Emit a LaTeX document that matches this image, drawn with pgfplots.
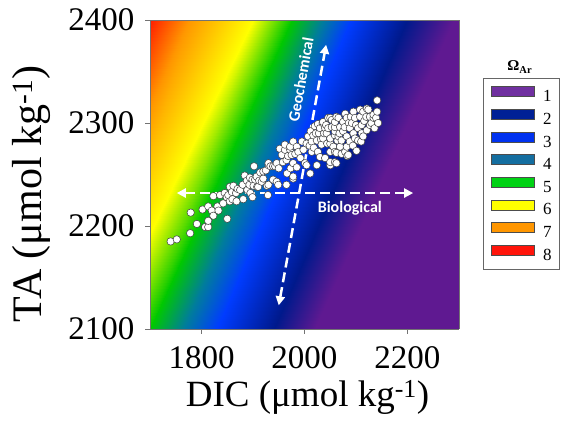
\documentclass[border=0pt]{standalone}
\usepackage{fontspec}
\setmainfont{Liberation Serif}
\newfontfamily\calibri{Carlito}
\usepackage{pgfplots}
\pgfplotsset{compat=1.18}
\usetikzlibrary{arrows.meta}
\definecolor{c1}{RGB}{112,48,160}
\definecolor{c2}{RGB}{0,32,150}
\definecolor{c3}{RGB}{0,50,240}
\definecolor{c4}{RGB}{20,110,160}
\definecolor{c5}{RGB}{0,210,20}
\definecolor{c6}{RGB}{255,255,0}
\definecolor{c7}{RGB}{255,150,0}
\definecolor{c8}{RGB}{255,20,10}
\pgfplotsset{sw/.style={legend image code/.code={\draw[draw=black!70,line width=0.5pt,fill=#1] (0pt,0.3pt) rectangle (43pt,10.3pt); \path (51pt,0pt);}}}
\begin{document}
\begin{tikzpicture}
\useasboundingbox (0,0) rectangle (563pt,422pt);
\begin{axis}[at={(150pt,93pt)}, anchor=south west,
  scale only axis, width=309pt, height=309pt,
  view={0}{90},
  clip mode=individual,
  xmin=1700, xmax=2300, ymin=2100, ymax=2400, zmin=-1, zmax=1,
  xtick={1800,2000,2200}, ytick={2100,2200,2300,2400}, ztick=\empty,
  scaled ticks=false,
  /pgf/number format/1000 sep={},
  /pgf/number format/assume math mode=true,
  ticklabel style={font=\fontsize{33}{33}\selectfont},
  xticklabel style={yshift=-9pt},
  yticklabel style={xshift=-7pt},
  tick align=outside, major tick length=5pt,
  xtick pos=left, ytick pos=left,
  tick style={draw=black!55, line width=0.8pt},
  axis line style={draw=black!55, line width=0.8pt},
  axis on top,
  colormap={omega}{rgb255=(95,25,145) rgb255=(0,25,140) rgb255=(0,60,255) rgb255=(0,125,155) rgb255=(0,200,0) rgb255=(255,255,0) rgb255=(255,150,0) rgb255=(255,30,0)},
  point meta min=1, point meta max=8,
  legend style={at={(1.078,0.812)}, anchor=north west, draw=black!60, line width=0.8pt,
    font=\fontsize{17}{17}\selectfont, inner xsep=8pt, inner ysep=8pt,
    row sep=5.7pt, nodes={inner sep=0pt}},
  legend cell align=left,
  legend entries={1,2,3,4,5,6,7,8},
]
\addlegendimage{sw=c1}
\addlegendimage{sw=c2}
\addlegendimage{sw=c3}
\addlegendimage{sw=c4}
\addlegendimage{sw=c5}
\addlegendimage{sw=c6}
\addlegendimage{sw=c7}
\addlegendimage{sw=c8}
% Omega_Ar background (values read along iso-lines)
\addplot3[surf, shader=interp, point meta=explicit, mesh/rows=2] table [x=DIC, y=TA, z=Z, meta=O] {
DIC TA Z O
1200 2100 0 8
1430 2100 0 8
1510 2100 0 7
1610 2100 0 6
1700 2100 0 5
1765 2100 0 4
1830 2100 0 3
1940 2100 0 2
2020 2100 0 1
2400 2100 0 1
1500 2400 0 8
1700 2400 0 8
1775 2400 0 7
1900 2400 0 6
1975 2400 0 5
2035 2400 0 4
2090 2400 0 3
2200 2400 0 2
2290 2400 0 1
2700 2400 0 1
};
% arrows
\addplot[white, line width=2.5pt, dash pattern=on 10pt off 5pt, {Triangle[length=9pt,width=9pt]}-{Triangle[length=9pt,width=9pt]}] coordinates {(1950,2123) (2042,2376)};
\addplot[white, line width=2.5pt, dash pattern=on 10pt off 5pt, {Triangle[length=9pt,width=9pt]}-{Triangle[length=9pt,width=9pt]}] coordinates {(1752,2232) (2211,2232)};
% observations
\addplot[only marks, mark=*, mark size=3.7pt, mark options={fill=white, draw=black!75, line width=0.5pt}] table [x=DIC, y=TA] {
DIC TA
1740 2185
1752 2187
1778 2193
1779 2213
1791 2202
1802 2216
1807 2199
1813 2199
1813 2205
1813 2219
1820 2215
1823 2210
1823 2229
1831 2219
1833 2215
1836 2230
1842 2222
1845 2232
1850 2207
1849 2228
1852 2230
1855 2224
1855 2238
1859 2233
1860 2226
1862 2239
1867 2232
1868 2224
1870 2236
1875 2235
1880 2240
1881 2226
1884 2249
1888 2244
1889 2235
1893 2240
1894 2247
1895 2232
1899 2228
1899 2245
1901 2239
1902 2258
1904 2245
1907 2248
1908 2238
1910 2238
1912 2244
1914 2252
1917 2243
1920 2246
1920 2253
1925 2254
1927 2239
1929 2230
1930 2240
1930 2259
1930 2261
1934 2258
1939 2245
1939 2258
1943 2258
1946 2243
1946 2261
1949 2240
1950 2256
1952 2275
1956 2269
1958 2262
1962 2274
1962 2279
1965 2240
1965 2264
1966 2251
1968 2268
1972 2274
1972 2277
1973 2256
1975 2269
1978 2246
1978 2248
1978 2261
1978 2282
1982 2270
1985 2257
1985 2277
1988 2272
1992 2266
1995 2282
1998 2274
2001 2261
2004 2259
2004 2280
2007 2287
2010 2278
2011 2251
2012 2292
2014 2272
2014 2282
2017 2288
2018 2276
2020 2297
2022 2290
2024 2259
2024 2283
2026 2272
2026 2299
2028 2290
2030 2267
2030 2295
2032 2284
2033 2279
2035 2300
2036 2285
2036 2301
2038 2290
2040 2266
2040 2295
2042 2298
2043 2290
2044 2280
2046 2295
2046 2305
2050 2259
2050 2262
2050 2272
2050 2280
2050 2285
2050 2305
2053 2296
2053 2303
2056 2277
2059 2262
2059 2272
2059 2288
2059 2292
2059 2296
2059 2301
2062 2261
2062 2271
2062 2306
2064 2283
2066 2287
2066 2305
2068 2290
2069 2277
2069 2296
2072 2270
2072 2283
2075 2292
2075 2301
2078 2296
2079 2272
2079 2309
2082 2277
2082 2287
2082 2305
2083 2268
2085 2269
2086 2300
2088 2282
2088 2295
2090 2306
2092 2300
2094 2278
2095 2290
2095 2311
2098 2285
2098 2305
2100 2298
2101 2273
2104 2283
2104 2295
2108 2306
2108 2313
2110 2282
2111 2290
2111 2298
2114 2287
2114 2311
2116 2302
2120 2306
2121 2293
2121 2314
2124 2313
2127 2298
2127 2306
2130 2300
2134 2305
2134 2308
2136 2295
2139 2305
2141 2311
2141 2322
2143 2300
};
\node[rotate=80, text=white, font=\calibri\bfseries\fontsize{16}{16}\selectfont] at (axis cs:1993,2342,0) {Geochemical};
\node[text=white, font=\calibri\bfseries\fontsize{16}{16}\selectfont] at (axis cs:2088,2217,0) {Biological};
\node[font=\fontsize{37}{37}\selectfont, anchor=center] at (axis description cs:0.51,-0.220) {DIC (μmol kg\textsuperscript{-1})};
\node[font=\fontsize{42}{42}\selectfont, anchor=center, rotate=90] at (axis description cs:-0.385,0.437) {TA (μmol kg\textsuperscript{-1})};
\node[font=\bfseries\fontsize{15}{15}\selectfont] at (axis description cs:1.197,0.848) {Ω\textsubscript{Ar}};
\end{axis}
\end{tikzpicture}
\end{document}
